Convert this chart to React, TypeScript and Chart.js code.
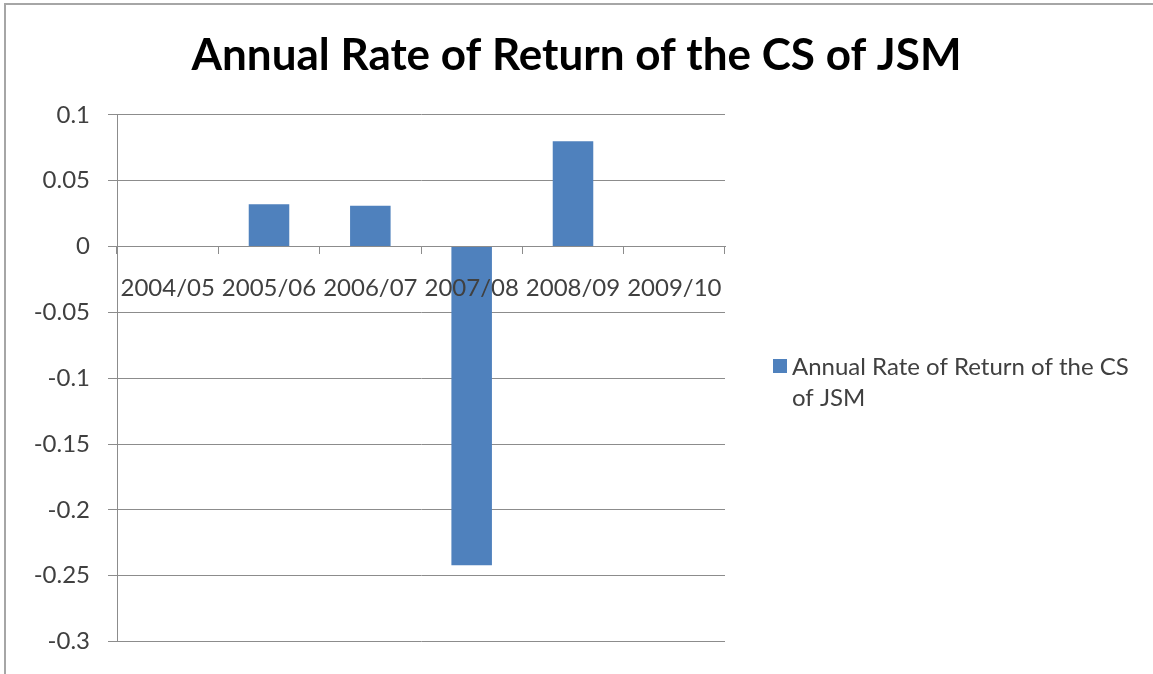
import React, { useEffect, useRef } from "react";
import { Chart, registerables } from "chart.js";

Chart.register(...registerables);

const categories = ["2004/05", "2005/06", "2006/07", "2007/08", "2008/09", "2009/10"];
const returns: (number | null)[] = [null, 0.032, 0.031, -0.242, 0.08, null];
const seriesName = "Annual Rate of Return of the CS of JSM";
const legendLines = ["Annual Rate of Return of the CS", "of JSM"];
const chartTitle = "Annual Rate of Return of the CS of JSM";
const yMin = -0.3;
const yMax = 0.1;
const yStep = 0.05;

const FONT = "Lato, 'Open Sans', sans-serif";
const BAR_COLOR = "#4F81BD";
const GRID_COLOR = "#8C8C8C";
const TEXT_COLOR = "#404040";

const legendPlugin = {
  id: "wrappedLegend",
  afterDraw(chart: any) {
    const ctx = chart.ctx;
    const ds = chart.data.datasets[0];
    const x0 = chart.chartArea.right + 48;
    ctx.save();
    ctx.fillStyle = ds.backgroundColor;
    ctx.fillRect(x0, 359, 14, 14);
    ctx.fillStyle = TEXT_COLOR;
    ctx.font = `24px ${FONT}`;
    ctx.textBaseline = "middle";
    ctx.textAlign = "left";
    legendLines.forEach((line, i) => {
      ctx.fillText(line, x0 + 19, 367 + i * 31);
    });
    ctx.restore();
  },
};

export default function App() {
  const canvasRef = useRef<HTMLCanvasElement | null>(null);

  useEffect(() => {
    if (!canvasRef.current) return;
    const chart = new Chart(canvasRef.current, {
      type: "bar",
      data: {
        labels: categories,
        datasets: [
          {
            label: seriesName,
            data: returns,
            backgroundColor: BAR_COLOR,
            borderWidth: 0,
            categoryPercentage: 1,
            barPercentage: 0.4,
          },
        ],
      },
      options: {
        animation: false,
        responsive: false,
        maintainAspectRatio: false,
        layout: { padding: { top: 20, bottom: 27, left: 0, right: 0 } },
        plugins: {
          legend: { display: false },
          tooltip: { enabled: false },
          title: {
            display: true,
            text: chartTitle,
            color: "#000000",
            font: { family: FONT, size: 44, weight: "bold" },
            padding: { top: 9, bottom: 33 },
          },
        },
        scales: {
          y: {
            min: yMin,
            max: yMax,
            ticks: {
              stepSize: yStep,
              color: TEXT_COLOR,
              font: { family: FONT, size: 24 },
              padding: 18,
              callback: (v: any) => String(Number(Number(v).toFixed(2))),
            },
            grid: { color: GRID_COLOR, lineWidth: 1, tickLength: 9, drawTicks: true },
            border: { display: true, color: GRID_COLOR, width: 1 },
            afterFit: (scale: any) => {
              scale.width = 117;
            },
          },
          legendSpace: {
            type: "linear",
            position: "right",
            display: true,
            ticks: { display: false },
            grid: { display: false, drawOnChartArea: false },
            border: { display: false },
            afterFit: (scale: any) => {
              scale.width = 428;
            },
          },
          x: {
            position: { y: 0 } as any,
            offset: true,
            ticks: {
              color: TEXT_COLOR,
              font: { family: FONT, size: 24 },
              padding: 20,
              maxRotation: 0,
              autoSkip: false,
              z: 1,
            },
            grid: { drawOnChartArea: false, drawTicks: true, tickLength: 7, color: GRID_COLOR, offset: true },
            border: { display: true, color: GRID_COLOR, width: 1 },
          },
        } as any,
      },
      plugins: [legendPlugin],
    });
    return () => chart.destroy();
  }, []);

  return (
    <div style={{ position: "fixed", left: 0, top: 0, width: 1153, height: 674, overflow: "hidden", background: "#fff" }}>
      <div
        style={{
          position: "absolute",
          left: 4,
          top: 3,
          width: 1300,
          height: 800,
          border: "2px solid #A6A6A6",
          boxSizing: "border-box",
        }}
      />
      <canvas ref={canvasRef} width={1153} height={674} style={{ position: "absolute", left: 0, top: 0 }} />
    </div>
  );
}
